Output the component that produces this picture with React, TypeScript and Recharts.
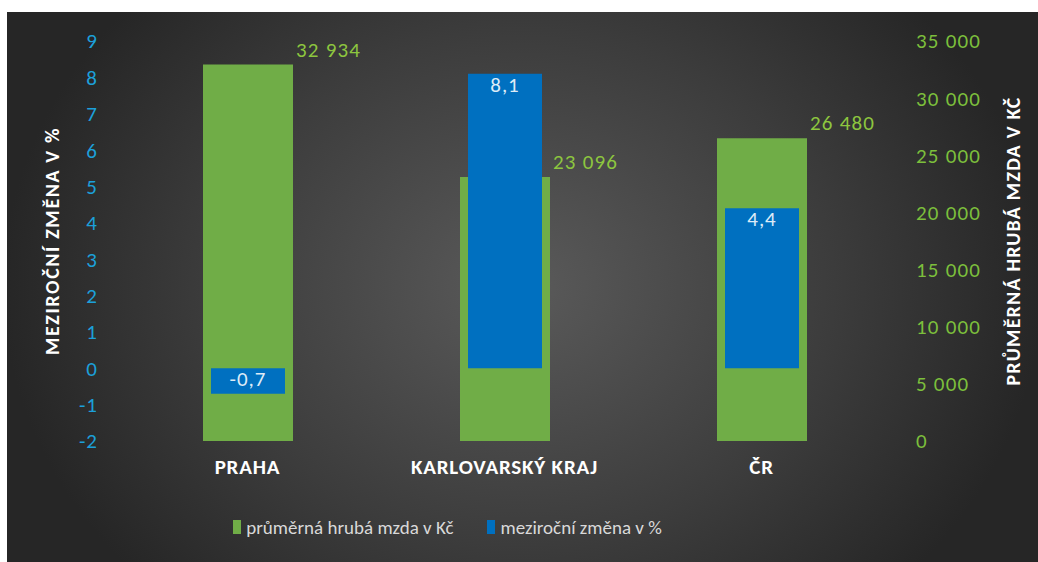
import { Bar, ComposedChart, LabelList, Legend, XAxis, YAxis } from 'recharts';

const regions = ['PRAHA', 'KARLOVARSKÝ KRAJ', 'ČR'];
const wages = [32934, 23096, 26480];
const changes = [-0.7, 8.1, 4.4];
const leftTicks = [-2, -1, 0, 1, 2, 3, 4, 5, 6, 7, 8, 9];
const rightTicks = [0, 5000, 10000, 15000, 20000, 25000, 30000, 35000];

const data = regions.map((name, i) => ({ name, wage: wages[i], change: changes[i] }));

const GREEN = '#70AD47';
const BLUE = '#0070C0';
const FONT = 'Carlito, Lato, sans-serif';

const thousands = (v: number) => String(v).replace(/\B(?=(\d{3})+(?!\d))/g, '\u00a0');
const comma = (v: number) => String(v).replace('.', ',');

const WageLabel = (props: any) => {
  const { x, y, width, value } = props;
  return (
    <text x={x + width + 3} y={y - 13} fill="#8DC63F" fontSize={21} letterSpacing={1.2} fontFamily={FONT} dominantBaseline="middle">
      {thousands(value)}
    </text>
  );
};

const ChangeLabel = (props: any) => {
  const { x, y, width, height, value } = props;
  const top = Math.min(y, y + height);
  return (
    <text x={x + width / 2} y={top + 13} fill="#DDEBF7" fontSize={21} letterSpacing={1} fontFamily={FONT} textAnchor="middle" dominantBaseline="middle">
      {comma(value)}
    </text>
  );
};

const LegendBox = () => (
  <div style={{ display: 'flex', justifyContent: 'center', gap: 34, fontFamily: FONT, fontSize: 19, color: '#D9D9D9', height: 30, alignItems: 'center', paddingRight: 150 }}>
    <span style={{ display: 'flex', alignItems: 'center', gap: 5 }}>
      <span style={{ width: 8, height: 14, background: GREEN, display: 'inline-block' }} />
      průměrná hrubá mzda v Kč
    </span>
    <span style={{ display: 'flex', alignItems: 'center', gap: 5 }}>
      <span style={{ width: 8, height: 14, background: BLUE, display: 'inline-block' }} />
      meziroční změna v %
    </span>
  </div>
);

export default function App() {
  return (
    <div
      style={{
        position: 'absolute',
        left: 7,
        top: 12,
        width: 1031,
        height: 550,
        background: 'radial-gradient(ellipse 520px 430px at 50% 50%, #5a5a5a 0%, #3c3c3c 60%, #262626 100%)',
      }}
    >
      <ComposedChart width={1031} height={550} data={data} margin={{ top: 29, right: 0, left: 0, bottom: 20 }}>
        <XAxis
          xAxisId="a"
          dataKey="name"
          axisLine={false}
          tickLine={false}
          height={71}
          tickMargin={12}
          tick={{ fill: '#FFFFFF', fontSize: 21, fontWeight: 700, fontFamily: FONT, letterSpacing: 0.8 }}
        />
        <XAxis xAxisId="b" dataKey="name" hide />
        <YAxis
          yAxisId="left"
          orientation="left"
          width={112}
          domain={[-2, 9]}
          ticks={leftTicks}
          interval={0}
          axisLine={false}
          tickLine={false}
          tickSize={0}
          tickMargin={21}
          tick={{ fill: '#1CA0DA', fontSize: 21, fontFamily: FONT, letterSpacing: 1 }}
          label={{ value: 'MEZIROČNÍ ZMĚNA V %', angle: -90, position: 'insideLeft', offset: 45, style: { fill: '#FFFFFF', fontSize: 20, fontWeight: 700, fontFamily: FONT, textAnchor: 'middle', letterSpacing: 1.6 } }}
        />
        <YAxis
          yAxisId="right"
          orientation="right"
          width={148}
          domain={[0, 35000]}
          ticks={rightTicks}
          interval={0}
          axisLine={false}
          tickLine={false}
          tickSize={0}
          tickMargin={26}
          tickFormatter={thousands}
          tick={{ fill: '#7CBF3C', fontSize: 21, fontFamily: FONT, letterSpacing: 1.2 }}
          label={{ value: 'PRŮMĚRNÁ HRUBÁ MZDA V KČ', angle: -90, position: 'insideRight', offset: 25, style: { fill: '#FFFFFF', fontSize: 20, fontWeight: 700, fontFamily: FONT, textAnchor: 'middle', letterSpacing: 1.2 } }}
        />
        <Legend verticalAlign="bottom" content={<LegendBox />} />
        <Bar xAxisId="a" yAxisId="right" dataKey="wage" fill={GREEN} barSize={90} isAnimationActive={false}>
          <LabelList dataKey="wage" content={<WageLabel />} />
        </Bar>
        <Bar xAxisId="b" yAxisId="left" dataKey="change" fill={BLUE} barSize={74} isAnimationActive={false}>
          <LabelList dataKey="change" content={<ChangeLabel />} />
        </Bar>
      </ComposedChart>
    </div>
  );
}
